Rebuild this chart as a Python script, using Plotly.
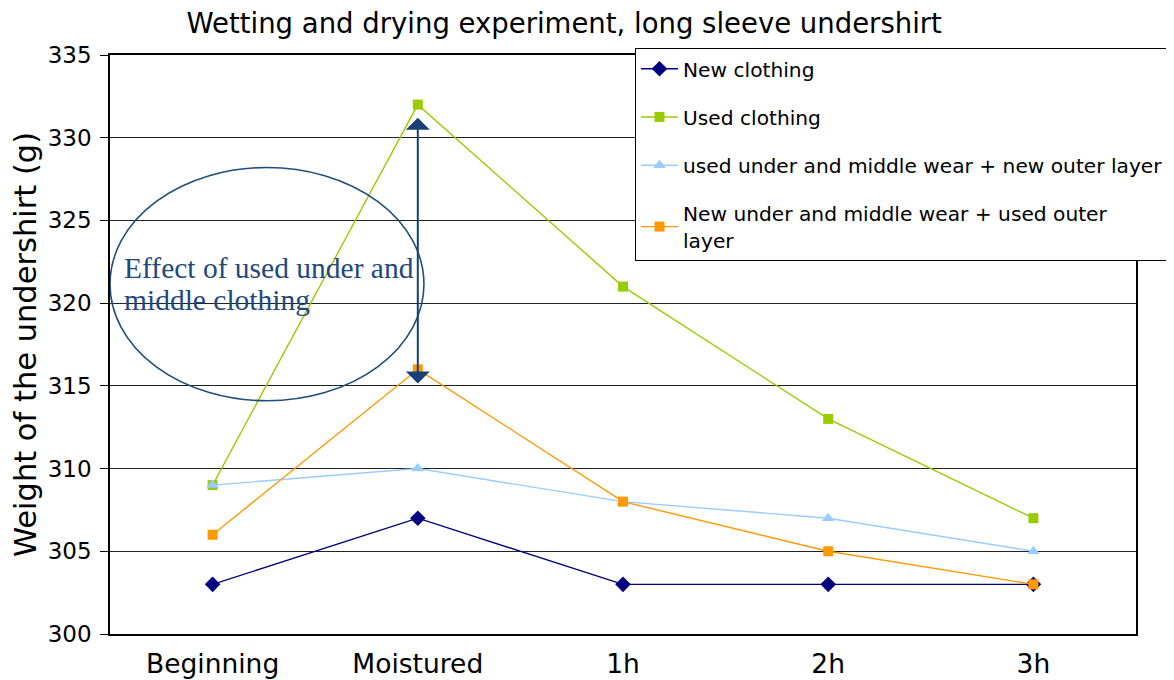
import plotly.graph_objects as go

categories = ["Beginning", "Moistured", "1h", "2h", "3h"]
new_clothing = [303, 307, 303, 303, 303]
used_clothing = [309, 332, 321, 313, 307]
used_under_new_outer = [309, 310, 308, 307, 305]
new_under_used_outer = [306, 316, 308, 305, 303]

series = [
    ("New clothing", new_clothing, "#000080", "diamond", 12),
    ("Used clothing", used_clothing, "#99CC00", "square", 10),
    ("used under and middle wear + new outer layer", used_under_new_outer, "#99CCFF", "triangle-up", 11),
    ("New under and middle wear + used outer<br>layer", new_under_used_outer, "#FF9900", "square", 10),
]

fig = go.Figure()
for i, (name, vals, color, sym, size) in enumerate(series):
    fig.add_trace(go.Scatter(
        x=categories, y=vals, name=name, mode="lines+markers",
        line=dict(color=color, width=1.4),
        marker=dict(symbol=sym, size=size, color=color),
        legendgroup=f"g{i}",
    ))

anno_color = "#1F4E79"
fig.add_shape(type="circle", xref="x", yref="y", x0=-0.5, x1=1.03, y0=314.1, y1=328.2,
              line=dict(color=anno_color, width=1.6))
fig.add_annotation(x=1, y=331.2, ax=1, ay=315.05, xref="x", yref="y", axref="x", ayref="y",
                   showarrow=True, arrowhead=1, arrowside="end+start", arrowsize=2.0,
                   arrowwidth=2, arrowcolor="#17407A", text="")
note_lines = ["Effect of used under and", "middle clothing"]
note_y = [322.15, 320.2]
for txt, yy in zip(note_lines, note_y):
    fig.add_annotation(x=-0.44, y=yy, xref="x", yref="y", xanchor="left", yanchor="middle",
                       text=txt, showarrow=False, align="left",
                       font=dict(family="Liberation Serif", size=29.5, color="#1F497D"))

fig.update_layout(
    width=1166, height=672,
    margin=dict(l=102, r=38, t=47, b=46, autoexpand=False),
    paper_bgcolor="white", plot_bgcolor="white",
    font=dict(family="DejaVu Sans", color="black"),
    title=dict(text="Wetting and drying experiment, long sleeve undershirt", x=0.477, xanchor="center",
               y=0.977, yanchor="middle", font=dict(size=27.5, family="DejaVu Sans")),
    legend=dict(x=0.5117, y=1.0120, xanchor="left", yanchor="top", bgcolor="white",
                bordercolor="black", borderwidth=1, font=dict(size=20.2, family="DejaVu Sans"),
                tracegroupgap=19, itemwidth=37),
    showlegend=True,
)
fig.update_xaxes(type="category", range=[-0.5, 4.5], showline=True, linecolor="black", linewidth=1.5,
                 mirror=True, ticks="", tickfont=dict(size=26.5), showgrid=False, ticklabelstandoff=5)
fig.update_yaxes(range=[300, 335], dtick=5, showline=True, linecolor="black", linewidth=1.5, mirror=True,
                 ticks="outside", ticklen=8, tickcolor="black", tickfont=dict(size=23),
                 ticklabelstandoff=4,
                 showgrid=True, gridcolor="#222", gridwidth=1,
                 title=dict(text="Weight of the undershirt (g)", font=dict(size=30.5), standoff=5))

fig.write_html("out.html")
